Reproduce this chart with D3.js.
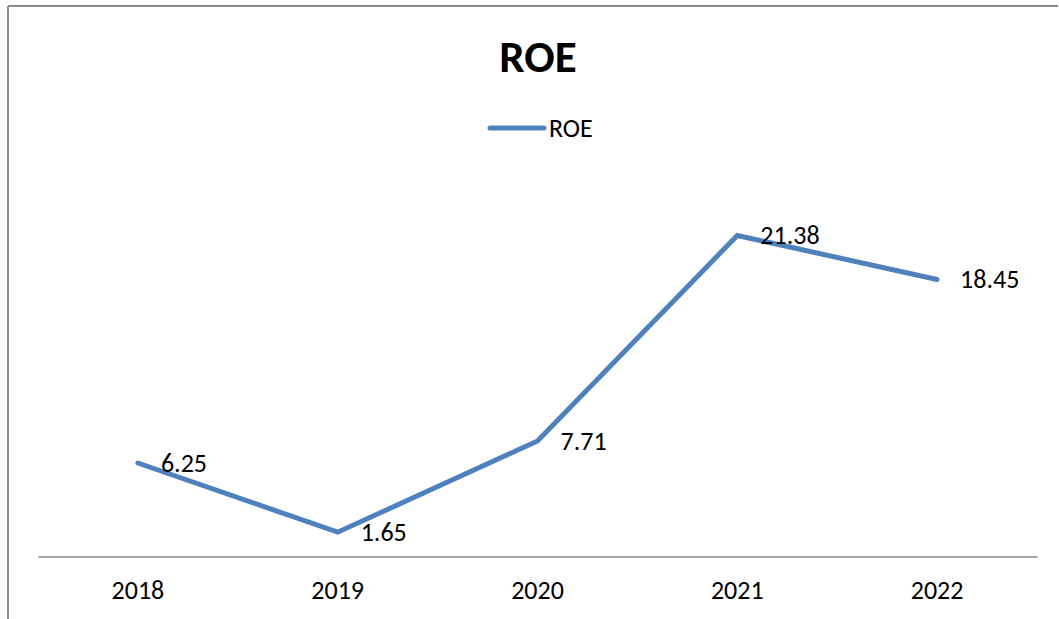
<!DOCTYPE html>
<html>
<head>
<meta charset="utf-8">
<script src="https://cdn.jsdelivr.net/npm/d3@7"></script>
<style>
  html, body { margin: 0; padding: 0; background: #fff; }
  svg { display: block; }
  text { font-family: Calibri, Carlito, "Open Sans", sans-serif; fill: #000; }
</style>
</head>
<body>
<svg id="chart" width="1059" height="619"></svg>
<script>
const title = "ROE";
const seriesName = "ROE";
const categories = ["2018", "2019", "2020", "2021", "2022"];
const roeValues = [6.25, 1.65, 7.71, 21.38, 18.45];
const yDomain = [0, 25];

const W = 1059, H = 619;
const svg = d3.select("#chart");
const lineColor = "#4f81bd";

// Frame (left and top edges visible)
svg.append("line").attr("x1", 8).attr("y1", 6).attr("x2", 8).attr("y2", H)
  .attr("stroke", "#8c8c8c").attr("stroke-width", 2);
svg.append("line").attr("x1", 8).attr("y1", 6).attr("x2", 1058).attr("y2", 6)
  .attr("stroke", "#8c8c8c").attr("stroke-width", 2);

const x = d3.scaleBand().domain(categories).range([38, 1037]);
const y = d3.scaleLinear().domain(yDomain).range([557, 181]);

// Category axis
const xAxis = d3.axisBottom(x).tickSize(0).tickPadding(0);
const gx = svg.append("g").attr("transform", "translate(0,556.5)").call(xAxis);
gx.select(".domain").attr("stroke", "#868686").attr("stroke-width", 1.5);
gx.selectAll(".tick text")
  .attr("y", 42.5).attr("dy", null)
  .style("font-size", "26px")
  .style("font-family", "Calibri, Carlito, 'Open Sans', sans-serif")
  .attr("fill", "#000");

// Title
svg.append("text").attr("x", 538).attr("y", 72)
  .attr("text-anchor", "middle")
  .style("font-size", "45px").style("font-weight", "bold")
  .text(title);

// Legend
svg.append("line").attr("x1", 490).attr("x2", 544).attr("y1", 128).attr("y2", 128)
  .attr("stroke", lineColor).attr("stroke-width", 5).attr("stroke-linecap", "round");
svg.append("text").attr("x", 549).attr("y", 136.5)
  .style("font-size", "26px").text(seriesName);

// Line
const pts = categories.map((c, i) => ({ c, v: roeValues[i] }));
const line = d3.line()
  .x(d => x(d.c) + x.bandwidth() / 2)
  .y(d => y(d.v));
svg.append("path").datum(pts)
  .attr("d", line)
  .attr("fill", "none")
  .attr("stroke", lineColor)
  .attr("stroke-width", 5)
  .attr("stroke-linecap", "round")
  .attr("stroke-linejoin", "miter");

// Data labels
svg.selectAll("text.lbl").data(pts).enter().append("text")
  .attr("class", "lbl")
  .attr("x", d => x(d.c) + x.bandwidth() / 2 + 23)
  .attr("y", d => y(d.v) + 8.5)
  .style("font-size", "26px")
  .text(d => d.v.toFixed(2));
</script>
</body>
</html>
